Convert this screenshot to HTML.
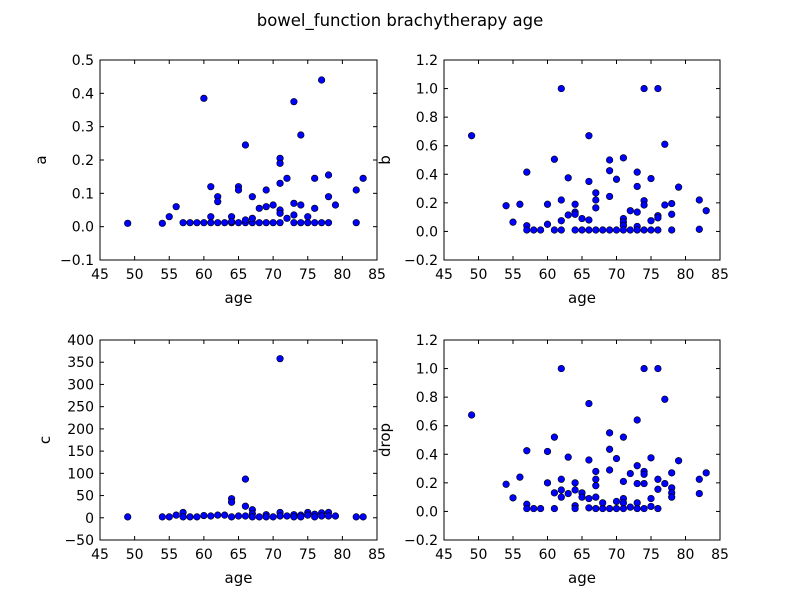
<!DOCTYPE html>
<html><head><meta charset="utf-8"><style>
html,body{margin:0;padding:0;background:#fff;}
svg text{font-family:"DejaVu Sans","Liberation Sans",sans-serif;fill:#000;}
</style></head><body>
<svg id="fig" width="800" height="600" xmlns="http://www.w3.org/2000/svg">
<rect x="0" y="0" width="800" height="600" fill="#fff"/>
<text x="400" y="26" text-anchor="middle" font-size="16.5">bowel_function brachytherapy age</text>
</svg>
<script>
const aAges=[49,54,55,56,57,58,59,60,61,62,63,64,65,66,67,68,69,70,71,73,74,75,76,77,78,82,60,61,61,62,62,64,64,65,65,66,66,67,67,68,69,69,70,71,71,71,71,71,72,72,73,73,73,74,74,75,76,76,77,78,78,79,82,83];
const aVals=[0.01,0.01,0.03,0.06,0.012,0.012,0.012,0.012,0.012,0.012,0.012,0.012,0.012,0.012,0.012,0.012,0.012,0.012,0.012,0.012,0.012,0.012,0.012,0.012,0.012,0.012,0.385,0.12,0.03,0.09,0.075,0.03,0.015,0.12,0.11,0.245,0.02,0.09,0.025,0.055,0.11,0.06,0.065,0.205,0.19,0.13,0.05,0.04,0.145,0.025,0.375,0.07,0.035,0.275,0.065,0.03,0.145,0.055,0.44,0.155,0.09,0.065,0.11,0.145];
const bAges=[49,54,55,56,57,57,57,58,59,60,60,61,61,62,62,62,62,63,63,64,64,64,64,65,65,66,66,66,66,67,67,67,67,68,69,69,69,69,70,70,71,71,71,71,71,72,72,73,73,73,73,73,74,74,74,74,75,75,75,76,76,76,76,77,77,78,78,78,79,82,82,83];
const bVals=[0.67,0.18,0.065,0.19,0.415,0.04,0.01,0.01,0.01,0.19,0.05,0.505,0.01,1.0,0.22,0.075,0.01,0.375,0.115,0.19,0.135,0.12,0.01,0.09,0.01,0.67,0.35,0.08,0.01,0.27,0.22,0.165,0.01,0.01,0.5,0.425,0.245,0.01,0.365,0.01,0.515,0.09,0.065,0.04,0.01,0.145,0.01,0.415,0.315,0.135,0.035,0.01,1.0,0.215,0.185,0.01,0.37,0.075,0.01,1.0,0.11,0.095,0.01,0.61,0.185,0.195,0.12,0.01,0.31,0.22,0.015,0.145];
const cAges=[49,54,55,56,57,57,58,59,60,61,62,63,64,64,64,65,66,66,66,67,67,67,68,69,69,70,71,71,71,72,73,73,74,74,75,75,76,76,77,77,78,78,79,82,83];
const cVals=[2,2,2,6,12,2,2,2,5,4,6,6,43,35,2,4,87,26,4,18,9,2,2,7,2,2,358,12,4,4,7,2,6,2,12,6,8,2,11,4,12,4,4,2,2];
const dAges=[49,54,55,56,57,57,57,58,59,60,60,61,61,61,62,62,62,62,63,63,64,64,64,64,65,65,66,66,66,66,67,67,67,67,67,68,68,69,69,69,69,70,70,70,71,71,71,71,71,72,72,73,73,73,73,73,74,74,74,74,74,75,75,75,76,76,76,76,77,77,78,78,78,78,79,82,82,83];
const dVals=[0.675,0.19,0.095,0.24,0.425,0.05,0.02,0.02,0.02,0.42,0.2,0.52,0.13,0.02,1.0,0.225,0.15,0.1,0.38,0.125,0.2,0.15,0.04,0.02,0.13,0.1,0.755,0.36,0.09,0.025,0.28,0.225,0.18,0.1,0.02,0.06,0.02,0.55,0.435,0.29,0.02,0.37,0.07,0.02,0.52,0.21,0.09,0.06,0.02,0.265,0.03,0.64,0.32,0.195,0.06,0.02,1.0,0.28,0.26,0.195,0.02,0.375,0.09,0.035,1.0,0.225,0.155,0.02,0.785,0.195,0.27,0.165,0.13,0.1,0.355,0.225,0.125,0.27];
const xTicks=[45,50,55,60,65,70,75,80,85];
const aTicks=[-0.1,0.0,0.1,0.2,0.3,0.4,0.5];
const bTicks=[-0.2,0.0,0.2,0.4,0.6,0.8,1.0,1.2];
const cTicks=[-50,0,50,100,150,200,250,300,350,400];
const dTicks=[-0.2,0.0,0.2,0.4,0.6,0.8,1.0,1.2];

const NS="http://www.w3.org/2000/svg";
const svg=document.getElementById('fig');
function mk(tag,attrs,parent){const e=document.createElementNS(NS,tag);for(const k in attrs)e.setAttribute(k,attrs[k]);(parent||svg).appendChild(e);return e;}
function fmt(v,dec){let s=v.toFixed(dec);if(v<0)s='\u2212'+s.slice(1);return s;}

function panel(key,L,T,W,H,ages,vals,yTicks,dec,ylab,ylabX){
  const g=mk('g',{});
  
  
  const x0=xTicks[0],x1=xTicks[xTicks.length-1],y0=yTicks[0],y1=yTicks[yTicks.length-1];
  const sx=v=>L+(v-x0)/(x1-x0)*W;
  const sy=v=>T+H-(v-y0)/(y1-y0)*H;
  for(let i=0;i<ages.length;i++){
    const c=mk('circle',{cx:sx(ages[i]),cy:sy(vals[i]),r:3.3,fill:'#0000ff',stroke:'#000','stroke-width':0.6},g);
    
    
  }
  const fr=mk('rect',{x:L,y:T,width:W,height:H,fill:'none',stroke:'#000','stroke-width':1},g);
  
  
  xTicks.forEach(t=>{
    const x=sx(t);
    mk('line',{x1:x,y1:T+H,x2:x,y2:T+H-4,stroke:'#000'},g);
    mk('line',{x1:x,y1:T,x2:x,y2:T+4,stroke:'#000'},g);
    const tx=mk('text',{x:x,y:T+H+19,'text-anchor':'middle','font-size':14},g);
    tx.textContent=String(t);
    
    
  });
  yTicks.forEach(t=>{
    const y=sy(t);
    mk('line',{x1:L,y1:y,x2:L+4,y2:y,stroke:'#000'},g);
    mk('line',{x1:L+W,y1:y,x2:L+W-4,y2:y,stroke:'#000'},g);
    const tx=mk('text',{x:L-6,y:y+5,'text-anchor':'end','font-size':14},g);
    tx.textContent=fmt(t,dec);
    
    
  });
  const xl=mk('text',{x:L+W/2,y:T+H+43,'text-anchor':'middle','font-size':15},g);
  xl.textContent='age';
  
  
  const yc=T+H/2;
  const yl=mk('text',{x:ylabX,y:yc,'text-anchor':'middle','font-size':15,transform:'rotate(-90 '+ylabX+' '+yc+')'},g);
  yl.textContent=ylab;
  
  
}
panel('a',100,60,277,200,aAges,aVals,aTicks,1,'a',46);
panel('b',444,60,276,200,bAges,bVals,bTicks,1,'b',390);
panel('c',100,340,277,200,cAges,cVals,cTicks,0,'c',50);
panel('drop',444,340,276,200,dAges,dVals,dTicks,1,'drop',390);
</script>
</body></html>
